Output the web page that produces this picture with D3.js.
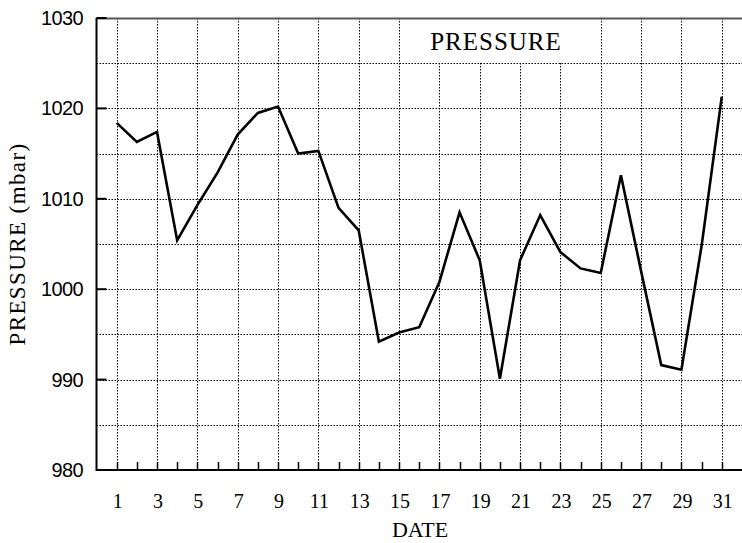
<!DOCTYPE html>
<html><head><meta charset="utf-8">
<script src="https://cdn.jsdelivr.net/npm/d3@7"></script>
<style>body{margin:0;background:#fff}svg{display:block}</style>
</head><body>
<script>
const dates = d3.range(1, 32);
const pressure = [1018.4,1016.3,1017.4,1005.4,1009.3,1012.9,1017.1,1019.5,1020.2,1015.0,
  1015.3,1009.0,1006.5,994.2,995.2,995.8,1000.8,1008.5,1003.2,990.1,
  1003.2,1008.2,1004.1,1002.3,1001.8,1012.6,1002.0,991.6,991.1,1004.8,1021.3];
const yTicks = [980,990,1000,1010,1020,1030];
const yGrid = [985,990,995,1000,1005,1010,1015,1020,1025];
const xLabels = d3.range(1, 32, 2);
const title = "PRESSURE";

const W = 742, H = 543;
const L = 96.5, R = 742, T = 18, B = 470;
const svg = d3.select("body").append("svg").attr("width", W).attr("height", H);
const x = d3.scaleLinear().domain([0, 32]).range([L, L + 32 * 20.17]);
const y = d3.scaleLinear().domain([980, 1030]).range([B, T]);

// title box region excluded from grid
const tb = {x0: 424, x1: 570, y1: 63};

const grid = svg.append("g").attr("stroke", "#000").attr("stroke-width", 1)
  .attr("stroke-dasharray", "1.5,1.5").attr("fill", "none");
yGrid.forEach(v => {
  const yy = Math.round(y(v)) + 0.5;
  if (yy < tb.y1) {
    grid.append("line").attr("x1", L).attr("x2", tb.x0).attr("y1", yy).attr("y2", yy);
    grid.append("line").attr("x1", tb.x1).attr("x2", R).attr("y1", yy).attr("y2", yy);
  } else {
    grid.append("line").attr("x1", L).attr("x2", R).attr("y1", yy).attr("y2", yy);
  }
});
xLabels.forEach(d => {
  const xx = Math.round(x(d)) + 0.5;
  const top = (xx > tb.x0 && xx < tb.x1) ? tb.y1 : T;
  grid.append("line").attr("x1", xx).attr("x2", xx).attr("y1", top).attr("y2", B);
});

// frame
svg.append("line").attr("x1", L).attr("x2", R).attr("y1", T + 0.5).attr("y2", T + 0.5)
  .attr("stroke", "#555").attr("stroke-width", 2);
svg.append("line").attr("x1", L).attr("x2", L).attr("y1", T).attr("y2", B + 1)
  .attr("stroke", "#000").attr("stroke-width", 2);
svg.append("line").attr("x1", L).attr("x2", R).attr("y1", B).attr("y2", B)
  .attr("stroke", "#000").attr("stroke-width", 2);

// y ticks
const yAxis = svg.append("g");
yTicks.forEach(v => {
  const yy = y(v);
  yAxis.append("line").attr("x1", L).attr("x2", L + 10).attr("y1", yy).attr("y2", yy)
    .attr("stroke", "#000").attr("stroke-width", 2);
  yAxis.append("text").attr("x", 83).attr("y", yy + 7).attr("text-anchor", "end")
    .attr("font-family", "Liberation Sans, Arial, sans-serif").attr("font-size", 20)
    .attr("letter-spacing", "-0.6").text(v);
});

// x ticks
const xAxis = svg.append("g");
dates.forEach(d => {
  const xx = Math.round(x(d)) + 0.5;
  xAxis.append("line").attr("x1", xx).attr("x2", xx).attr("y1", B - 8).attr("y2", B)
    .attr("stroke", "#000").attr("stroke-width", 1.5);
});
xLabels.forEach(d => {
  xAxis.append("text").attr("x", x(d) + 1).attr("y", 508).attr("text-anchor", "middle")
    .attr("font-family", "Liberation Serif, Times New Roman, serif").attr("font-size", 20)
    .text(d);
});

// line
const line = d3.line().x((d, i) => x(dates[i])).y(d => y(d));
svg.append("path").datum(pressure).attr("d", line).attr("fill", "none")
  .attr("stroke", "#000").attr("stroke-width", 2.6).attr("stroke-linejoin", "miter");

// labels
svg.append("text").attr("x", 496).attr("y", 50).attr("text-anchor", "middle")
  .attr("font-family", "Liberation Serif, Times New Roman, serif").attr("font-size", 25)
  .attr("letter-spacing", "1").text(title);
svg.append("text").attr("x", 420).attr("y", 537).attr("text-anchor", "middle")
  .attr("font-family", "Liberation Serif, Times New Roman, serif").attr("font-size", 22)
  .text("DATE");
svg.append("text").attr("transform", "translate(25,244) rotate(-90)").attr("text-anchor", "middle")
  .attr("font-family", "Liberation Serif, Times New Roman, serif").attr("font-size", 23)
  .attr("letter-spacing", "1.4").text("PRESSURE (mbar)");
</script>
</body></html>
